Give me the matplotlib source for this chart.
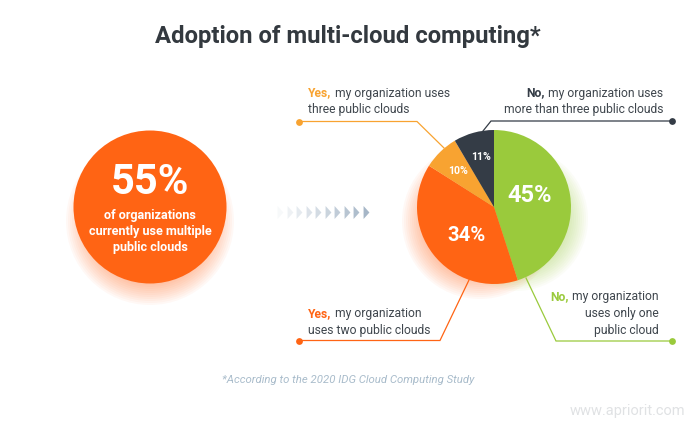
import numpy as np
import matplotlib
matplotlib.use("Agg")
import matplotlib.pyplot as plt
from matplotlib.patches import Circle

W, H = 695, 430
FONT = "Roboto"

title = "Adoption of multi-cloud computing*"
footnote = "*According to the 2020 IDG Cloud Computing Study"
watermark = "www.apriorit.com"

# slice shares as drawn, the printed labels don't quite match the geometry
slice_sizes = [45, 39, 7.5, 8.5]
slice_labels = ["45%", "34%", "10%", "11%"]
slice_colors = ["#9aca3c", "#ff6414", "#f8a331", "#343c46"]
headline = "55%"
headline_lines = ["of organizations", "currently use multiple", "public clouds"]

TEXT = "#3f464d"

plt.rcParams["font.family"] = FONT
fig = plt.figure(figsize=(W / 100, H / 100), dpi=100, facecolor="white")
ax = fig.add_axes([0, 0, 1, 1])
ax.set_xlim(0, W)
ax.set_ylim(H, 0)
ax.axis("off")


def glow(x, y, r, color):
    # stacked translucent discs as a soft drop shadow, pushed down below the disc
    for extra in range(8, -16, -2):
        ax.add_patch(Circle((x, y), r + extra, color=color, alpha=0.04, lw=0, zorder=1))


ax.text(W / 2 + 0.5, 36.5, title, ha="center", va="center", fontsize=17.2,
        fontweight="bold", color="#33393f")

# left circle
glow(150, 221, 76, "#ff6414")
ax.add_patch(Circle((150, 207), 76.5, color="#ff6414", lw=0, zorder=2))
ax.text(150, 182, headline, ha="center", va="center", fontsize=30, fontweight="bold",
        color="white", zorder=3)
for y, line in zip([215, 231, 247], headline_lines):
    ax.text(150, y, line, ha="center", va="center", fontsize=9.1, fontweight="bold",
            color="white", zorder=3)

# arrows between the two circles
arrow = [(-0.45, -1), (0.45, 0), (-0.45, 1)]
for i, x in enumerate(np.linspace(280, 366, 10)):
    ax.scatter(x, 212, marker=arrow, s=88, color="#a4b5c6", alpha=0.08 + 0.1 * i, lw=0, zorder=2)

# pie glow
glow(480, 221, 70, "#ff6414")
glow(516, 219, 64, "#9aca3c")

pie_ax = fig.add_axes([(494 - 77) / W, 1 - (207 + 77) / H, 154 / W, 154 / H], zorder=2)
pie_ax.pie(slice_sizes, colors=slice_colors, startangle=90, counterclock=False, radius=1,
           wedgeprops={"lw": 0})
pie_ax.set_xlim(-1, 1)
pie_ax.set_ylim(-1, 1)

ax2 = fig.add_axes([0, 0, 1, 1], zorder=3)
ax2.set_xlim(0, W)
ax2.set_ylim(H, 0)
ax2.axis("off")
ax2.patch.set_alpha(0)

pie_text = [(530, 195.5, 17), (466, 235.5, 14.6), (458, 171.5, 7.6), (481, 157.5, 7.6)]
for (x, y, fs), lab in zip(pie_text, slice_labels):
    ax2.text(x, y, lab, ha="center", va="center", fontsize=fs, fontweight="bold", color="white")

# leader lines
leaders = [
    ([299, 417, 444], [121.5, 121.5, 148], "#f8a331"),
    ([672, 491, 483], [121, 121, 131], "#343c46"),
    ([299, 440, 469], [340.5, 340.5, 280], "#ff6414"),
    ([672, 556, 526], [341, 341, 278], "#9aca3c"),
]
for xs, ys, c in leaders:
    ax2.plot(xs, ys, color=c, lw=0.9, solid_joinstyle="miter")
    ax2.scatter(xs[0], ys[0], s=24, color=c, lw=0, zorder=4)

renderer = fig.canvas.get_renderer()


def label_left(x, y, head, rest, color):
    t = ax2.text(x, y, head, color=color, fontsize=8.7, fontweight="bold", ha="left", va="center")
    x1 = t.get_window_extent(renderer).x1
    ax2.text(x1 + 3.5, y, rest, color=TEXT, fontsize=8.7, ha="left", va="center")


def label_right(x, y, head, rest, color):
    t = ax2.text(x, y, rest, color=TEXT, fontsize=8.7, ha="right", va="center")
    x0 = t.get_window_extent(renderer).x0
    ax2.text(x0 - 3.5, y, head, color=color, fontsize=8.7, fontweight="bold", ha="right", va="center")


label_left(308, 93, "Yes,", "my organization uses", "#f8a331")
ax2.text(308, 110, "three public clouds", color=TEXT, fontsize=8.7, ha="left", va="center")
label_right(663, 93, "No,", "my organization uses", "#343c46")
ax2.text(663, 110, "more than three public clouds", color=TEXT, fontsize=8.7, ha="right", va="center")
label_left(308, 313.5, "Yes,", "my organization", "#ff6414")
ax2.text(308, 330.5, "uses two public clouds", color=TEXT, fontsize=8.7, ha="left", va="center")
label_right(659, 296.5, "No,", "my organization", "#9aca3c")
ax2.text(659, 313.5, "uses only one", color=TEXT, fontsize=8.7, ha="right", va="center")
ax2.text(659, 330.5, "public cloud", color=TEXT, fontsize=8.7, ha="right", va="center")

ax2.text(348, 380, footnote, ha="center", va="center", fontsize=8.2, style="italic", color="#a9bccb")
ax2.text(685, 411, watermark, ha="right", va="center", fontsize=10.5, color="#e0e2e4")

fig.savefig("out.png", dpi=100)
